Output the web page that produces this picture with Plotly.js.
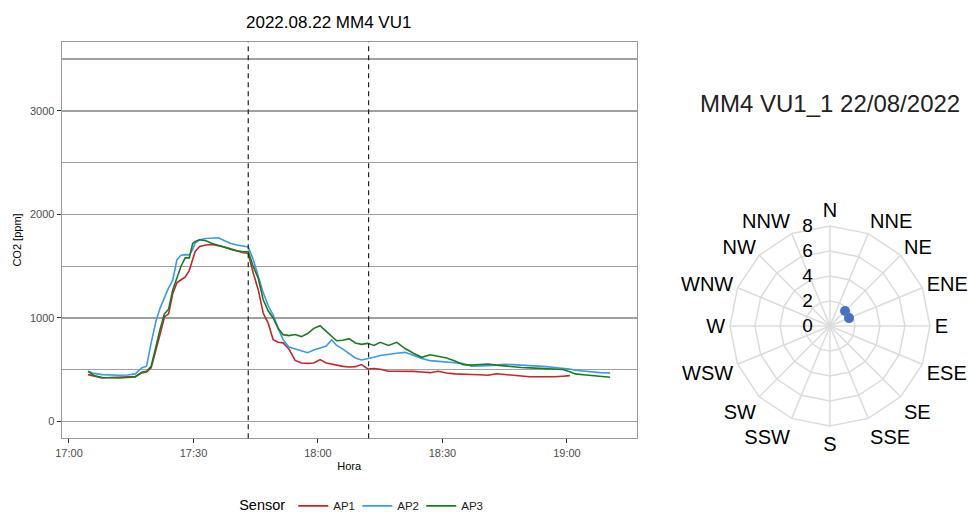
<!DOCTYPE html>
<html>
<head>
<meta charset="utf-8">
<script src="https://cdn.plot.ly/plotly-3.0.1.min.js"></script>
<style>html,body{margin:0;padding:0;background:#fff;}#chart{width:968px;height:512px;}</style>
</head>
<body>
<div id="chart"></div>
<script>
// ---- data ----
const day = "2022-08-22 ";
const times = ["17:04:36","17:06:00","17:08:00","17:10:00","17:12:00","17:14:00","17:16:00","17:17:30","17:18:42","17:19:48",
"17:21:00","17:22:00","17:23:00","17:24:00","17:25:00","17:26:00","17:27:00","17:28:00","17:29:00","17:29:48",
"17:30:24","17:31:30","17:33:00","17:34:30","17:36:00","17:37:30","17:39:00","17:40:30","17:42:00","17:43:12",
"17:44:24","17:45:36","17:46:48","17:48:00","17:49:12","17:50:24","17:51:36","17:53:00","17:54:30","17:56:00",
"17:57:30","17:59:00","18:00:30","18:02:00","18:03:18","18:04:30","18:06:00","18:07:30","18:09:00","18:10:30",
"18:12:00","18:13:30","18:15:00","18:17:00","18:19:00","18:21:00","18:23:00","18:25:00","18:27:00","18:29:00",
"18:31:00","18:33:00","18:35:00","18:37:00","18:39:00","18:41:00","18:43:00","18:45:00","18:47:00","18:49:00",
"18:51:00","18:53:00","18:55:00","18:57:00","18:59:00","19:00:42","19:02:00","19:04:00","19:06:00","19:08:00","19:10:24"];

const ap1 = [453,440,421,425,428,430,435,470,479,518,
715,850,1010,1040,1235,1340,1369,1395,1460,1560,
1642,1690,1705,1710,1700,1685,1665,1645,1630,1625,
1434,1273,1048,950,791,765,760,700,590,566,
562,566,598,566,555,545,533,527,530,550,
508,512,505,486,486,479,484,478,472,486,
468,460,460,455,452,447,461,455,452,440,
432,430,430,432,438,443,null,null,null,null,null];

const ap2 = [485,465,453,448,447,450,460,518,534,759,
975,1100,1205,1290,1365,1560,1605,1612,1610,1660,
1723,1755,1768,1775,1775,1745,1720,1705,1695,1686,
1565,1405,1245,1120,1029,900,791,720,700,680,
665,690,711,730,791,735,700,660,614,595,
605,620,637,650,660,668,637,610,588,582,
576,570,560,534,534,540,545,552,550,546,
543,538,530,522,515,508,495,487,480,472,470];

const ap3 = [485,445,425,421,421,425,431,476,485,534,
740,900,1040,1085,1270,1375,1500,1580,1580,1720,
1740,1755,1745,1720,1700,1685,1665,1650,1640,1642,
1498,1385,1176,1070,1000,900,839,830,840,820,
850,900,926,871,823,780,785,800,759,745,
755,735,765,735,765,705,660,620,645,630,
614,585,550,545,552,555,545,535,527,522,
518,514,510,506,502,480,460,452,445,438,428];

const sensorNames = ["AP1","AP2","AP3"];
const sensorColors = ["#c1272d","#3a9bea","#1e7a1e"];
const markerTimes = ["17:43:12","18:12:12"];

const directions = ["N","NNE","NE","ENE","E","ESE","SE","SSE","S","SSW","SW","WSW","W","WNW","NW","NNW"];
const windDir = ["NE","ENE"];
const windSpeed = [1.7,1.65];

const yTicks = [0,1000,2000,3000];
const xTicks = ["17:00","17:30","18:00","18:30","19:00"];

// ---- build ----
const xs = times.map(t => day + t);
const series = [ap1, ap2, ap3];
const traces = series.map((s, i) => ({
  type: "scatter", mode: "lines", x: xs, y: s, name: sensorNames[i],
  line: {color: sensorColors[i], width: 1.6}, xaxis: "x", yaxis: "y", connectgaps: false
}));

traces.push({
  type: "scatterpolar", mode: "markers", theta: windDir, r: windSpeed,
  marker: {color: "#4472c4", size: 10}, showlegend: false, subplot: "polar"
});

const shapes = markerTimes.map(t => ({
  type: "line", xref: "x", yref: "paper", x0: day + t, x1: day + t,
  y0: 0.1439, y1: 0.9186, line: {color: "#222", width: 1.2, dash: "5px,4px"}
}));

const layout = {
  width: 968, height: 512,
  margin: {l: 0, r: 0, t: 0, b: 0, autoexpand: false},
  paper_bgcolor: "#fff", plot_bgcolor: "#fff",
  font: {family: "Liberation Sans, Arial, sans-serif", color: "#000"},
  xaxis: {
    domain: [0.0637, 0.6577], type: "date",
    range: [day + "16:58:14", day + "19:16:48"],
    tickvals: xTicks.map(t => day + t), ticktext: xTicks,
    showgrid: false, zeroline: false,
    showline: true, mirror: true, linecolor: "#9a9a9a", linewidth: 1,
    ticks: "outside", ticklen: 4, tickcolor: "#333", tickwidth: 1,
    tickfont: {size: 11, color: "#4d4d4d"},
    title: {text: "Hora", font: {size: 11, color: "#000"}, standoff: 4}
  },
  yaxis: {
    domain: [0.1439, 0.9186], range: [-162, 3668],
    tickvals: yTicks, showgrid: true, gridcolor: "#a0a0a0", gridwidth: 1.3,
    minor: {dtick: 500, tick0: 0, showgrid: true, gridcolor: "#a0a0a0", gridwidth: 1.3, ticks: ""},
    zeroline: false,
    showline: true, mirror: true, linecolor: "#9a9a9a", linewidth: 1,
    ticks: "outside", ticklen: 4, tickcolor: "#333", tickwidth: 1,
    tickfont: {size: 11, color: "#4d4d4d"},
    title: {text: "CO2 [ppm]", font: {size: 11, color: "#000"}, standoff: 6}
  },
  polar: {
    domain: {x: [0.7541, 0.9607], y: [0.1680, 0.5586]},
    bgcolor: "#fff", gridshape: "linear",
    radialaxis: {range: [0, 8], dtick: 2, tick0: 0, angle: 90, side: "counterclockwise",
      tickangle: 90, showline: false, ticks: "outside", ticklen: 10, tickcolor: "rgba(0,0,0,0)",
      gridcolor: "#dcdcdc", gridwidth: 1.5,
      tickfont: {size: 19, color: "#000"}},
    angularaxis: {type: "category", categoryarray: directions, direction: "clockwise", rotation: 90,
      showline: true, linecolor: "#dcdcdc", linewidth: 1.5, gridcolor: "#dcdcdc", gridwidth: 1.5,
      ticks: "", tickfont: {size: 20, color: "#000"}}
  },
  showlegend: true,
  legend: {
    orientation: "h", x: 0.245, xanchor: "left", y: 0.012, yanchor: "middle",
    title: {text: "Sensor", font: {size: 14.5, color: "#000"}, side: "left"},
    font: {size: 11.5, color: "#222"}, entrywidth: 19, entrywidthmode: "pixels",
    bgcolor: "rgba(0,0,0,0)", traceorder: "normal"
  },
  shapes: shapes,
  annotations: [
    {text: "2022.08.22 MM4 VU1", xref: "paper", yref: "paper", x: 328/968, y: 1 - 22/512,
     xanchor: "center", yanchor: "middle", showarrow: false, font: {size: 17, color: "#000"}},
    {text: "MM4 VU1_1 22/08/2022", xref: "paper", yref: "paper", x: 830/968, y: 1 - 103/512,
     xanchor: "center", yanchor: "middle", showarrow: false, font: {size: 24, color: "#222"}}
  ]
};

Plotly.newPlot("chart", traces, layout, {displayModeBar: false, staticPlot: true});
</script>
</body>
</html>
